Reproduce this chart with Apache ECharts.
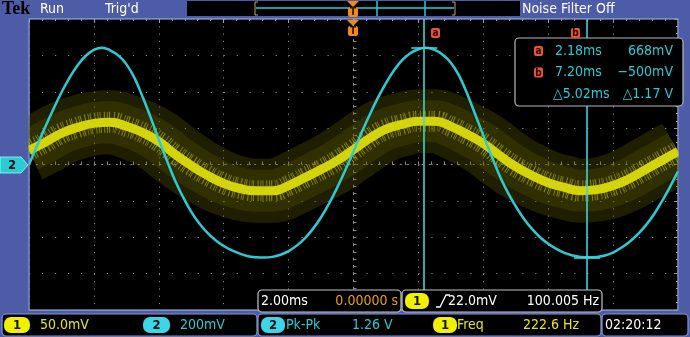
<!DOCTYPE html>
<html>
<head>
<meta charset="utf-8">
<script src="https://cdn.jsdelivr.net/npm/echarts@6/dist/echarts.min.js"></script>
<style>
html,body{margin:0;padding:0;background:#4d5ca6;}
#c{width:690px;height:337px;}
</style>
</head>
<body>
<div id="c"></div>
<script>
// ---- data (time in ms, values in screen divisions) ----
const ch1TimeMs = [-10,-9.5,-9,-8.5,-8,-7.5,-7,-6.5,-6,-5.5,-5,-4.5,-4,-3.5,-3,-2.5,-2,-1.5,-1,-0.5,0,0.5,1,1.5,2,2.5,3,3.5,4,4.5,5,5.5,6,6.5,7,7.5,8,8.5,9,9.5,10];
const ch1Div = [0.39,0.61,0.86,1.02,1.13,1.16,1.05,0.88,0.63,0.28,-0.03,-0.30,-0.52,-0.66,-0.72,-0.72,-0.58,-0.36,-0.14,0.11,0.41,0.72,0.97,1.10,1.19,1.19,1.05,0.83,0.58,0.25,-0.06,-0.30,-0.50,-0.63,-0.72,-0.69,-0.58,-0.39,-0.14,0.11,0.36];
const ch2TimeMs = [-10,-9.75,-9.5,-9.25,-9,-8.75,-8.5,-8.25,-8,-7.75,-7.5,-7.25,-7,-6.75,-6.5,-6.25,-6,-5.75,-5.5,-5.25,-5,-4.75,-4.5,-4.25,-4,-3.75,-3.5,-3.25,-3,-2.75,-2.5,-2.25,-2,-1.75,-1.5,-1.25,-1,-0.75,-0.5,-0.25,0,0.25,0.5,0.75,1,1.25,1.5,1.75,2,2.25,2.5,2.75,3,3.25,3.5,3.75,4,4.25,4.5,4.75,5,5.25,5.5,5.75,6,6.25,6.5,6.75,7,7.25,7.5,7.75,8,8.25,8.5,8.75,9,9.25,9.5,9.75,10];
const ch2Div = [0.00,0.52,1.03,1.52,1.98,2.39,2.73,2.99,3.15,3.21,
                3.14,3.00,2.76,2.38,1.86,1.29,0.69,0.11,-0.44,-0.90,
                -1.30,-1.62,-1.88,-2.08,-2.24,-2.36,-2.45,-2.52,-2.55,-2.56,
                -2.54,-2.48,-2.38,-2.23,-2.03,-1.77,-1.45,-1.07,-0.63,-0.15,
                0.36,0.88,1.37,1.83,2.24,2.59,2.87,3.06,3.17,3.21,
                3.15,3.02,2.80,2.45,1.95,1.38,0.80,0.24,-0.30,-0.76,
                -1.15,-1.49,-1.77,-2.00,-2.18,-2.32,-2.43,-2.50,-2.54,-2.55,
                -2.54,-2.50,-2.42,-2.29,-2.13,-1.93,-1.68,-1.38,-1.02,-0.62,
                -0.19];
const cursorTimes = [2.18, 7.20];
const cursorLevels = [3.22, -2.56];
const xRange = [-10, 10, 2];   // 2.00 ms/div, 10 divisions
const yRange = [-4, 4, 1];     // 8 divisions

// ---- readout texts ----
const cursorRows = [["a","2.18ms","668mV"],["b","7.20ms","\u2212500mV"],["","\u25B35.02ms","\u25B31.17 V"]];
const horiz = ["2.00ms","0.00000 s"];
const trig = ["22.0mV","100.005 Hz"];
const chScale = ["50.0mV","200mV"];
const meas = ["Pk-Pk","1.26 V","Freq","222.6 Hz"];
const clock = "02:20:12";

const pair = (ts, ys) => ts.map((t,i)=>[t, ys[i]]);

const FONT = "'Liberation Sans Narrow','DejaVu Sans Condensed','Liberation Sans',sans-serif";
const YEL = '#e6e614', CYA = '#2ccbd4', ORG = '#f08a1c', CUR = '#e8562a', FRAME = '#4d5ca6';

function txt(x,y,s,fill,size,align,weight,family){
  return {type:'text', z:120, style:{x:x,y:y,text:s,fill:fill,
    font:(weight||'normal')+' '+(size||14)+'px '+(family||FONT),
    align:align||'left', textAlign:align||'left', verticalAlign:'middle', textVerticalAlign:'middle'}};
}
function box(x,y,w,h,stroke){
  return {type:'rect', z:110, shape:{x:x,y:y,width:w,height:h,r:4},
    style:{fill:'#000',stroke:stroke||'#c4c4cc',lineWidth:1.2}};
}
function pill(x,y,w,h,color,label){
  return [{type:'rect', z:115, shape:{x:x,y:y,width:w,height:h,r:7}, style:{fill:color}},
          txt(x+w/2,y+h/2+0.5,label,'#111',13,'center','bold')];
}
function curIcon(x,y,label){
  return [{type:'rect', z:118, shape:{x:x,y:y,width:9,height:10,r:2}, style:{fill:CUR}},
          txt(x+4.5,y+5.5,label,'#2a0a00',10,'center','bold')];
}
function trigMarker(x,y){
  return [{type:'polygon', z:118, shape:{points:[[x-6,y],[x+6,y],[x,y+6]]}, style:{fill:ORG}},
          {type:'rect', z:118, shape:{x:x-5,y:y+6,width:10,height:10,r:2}, style:{fill:ORG}},
          txt(x,y+11.5,'T','#2a1200',10,'center','bold')];
}

const graphics = [];
// frame strips hiding wide strokes that spill past the graticule
graphics.push({type:'rect', z:100, shape:{x:0,y:17,width:28.4,height:296}, style:{fill:FRAME}});
graphics.push({type:'rect', z:100, shape:{x:678.6,y:17,width:12,height:296}, style:{fill:FRAME}});
// top bar
graphics.push(txt(2,9,'Tek','#000',18,'left','bold',"'Liberation Serif',serif"));
graphics.push(txt(40,9,'Run','#fff',14));
graphics.push(txt(105,9,"Trig'd",'#fff',14));
graphics.push({type:'rect', z:105, shape:{x:187,y:1,width:333,height:15}, style:{fill:'#000'}});
graphics.push({type:'line', z:106, shape:{x1:256,y1:8,x2:454,y2:8}, style:{stroke:CYA,lineWidth:1.5}});
graphics.push({type:'line', z:106, shape:{x1:377,y1:1,x2:377,y2:16}, style:{stroke:CYA,lineWidth:1.5}});
graphics.push({type:'line', z:106, shape:{x1:425,y1:1,x2:425,y2:16}, style:{stroke:CYA,lineWidth:1.5}});
graphics.push({type:'polyline', z:106, shape:{points:[[258,2],[255,2],[255,15],[258,15]]}, style:{stroke:'#c8a070',lineWidth:1,fill:null}});
graphics.push({type:'polyline', z:106, shape:{points:[[452,2],[455,2],[455,15],[452,15]]}, style:{stroke:'#c8a070',lineWidth:1,fill:null}});
graphics.push(...trigMarker(353,1));
graphics.push(txt(522,9,'Noise Filter Off','#fff',14));
// trigger marker on graticule, cursor tags
graphics.push(...trigMarker(353,20));
graphics.push(...curIcon(431,28,'a'));
graphics.push(...curIcon(571,28,'b'));
// ch2 ground marker
graphics.push({type:'polygon', z:118, shape:{points:[[0,157],[21,157],[28,165],[21,173],[0,173]]}, style:{fill:CYA,stroke:'#9ff',lineWidth:0.8}});
graphics.push(txt(12,165.5,'2','#111',13,'center','bold'));
// cursor readout box
graphics.push(box(515,38,168,68,'#b8b8c0'));
cursorRows.forEach((r,i)=>{
  const y = 51 + i*21.5;
  if (r[0]) graphics.push(...curIcon(534,y-5,r[0]));
  graphics.push(txt(555 - (r[0]?0:2),y,r[1],CYA,14));
  graphics.push(txt(673,y,r[2],CYA,14,'right'));
});
// bottom row 1
graphics.push(box(258,290,143,22));
graphics.push(txt(261,301,horiz[0],'#fff',14));
graphics.push(txt(398,301,horiz[1],'#f0a000',14,'right'));
graphics.push(box(402,290,200,22));
graphics.push(...pill(405,293,24,16,'#f0f000','1'));
graphics.push({type:'polyline', z:118, shape:{points:[[436,307],[440,307],[446,295],[450,295]]}, style:{stroke:'#fff',lineWidth:1.3,fill:null}});
graphics.push(txt(448,301,trig[0],'#fff',14));
graphics.push(txt(599,301,trig[1],'#fff',14,'right'));
// bottom row 2
graphics.push(box(2,314,255,22,'#8a94c8'));
graphics.push(...pill(4,317,26,16,'#f0f000','1'));
graphics.push(txt(40,325,chScale[0],YEL,14));
graphics.push(...pill(143,317,27,16,'#3cd6e6','2'));
graphics.push(txt(180,325,chScale[1],CYA,14));
graphics.push(box(258,314,343,22,'#8a94c8'));
graphics.push(...pill(261,317,24,16,'#3cd6e6','2'));
graphics.push(txt(286,325,meas[0],CYA,14));
graphics.push(txt(352,325,meas[1],CYA,14));
graphics.push(...pill(433,317,24,16,'#f0f000','1'));
graphics.push(txt(457,325,meas[2],YEL,14));
graphics.push(txt(523,325,meas[3],YEL,14));
graphics.push(box(602,314,86,22,'#8a94c8'));
graphics.push(txt(605,325,clock,'#fff',14));

const gridDot = '#8a8a8a';
const tickAxis = (pos, isX) => ({
  type:'value', gridIndex:0, position:pos, min:(isX?xRange:yRange)[0], max:(isX?xRange:yRange)[1], interval:(isX?xRange:yRange)[2],
  axisLine:{show:false, onZero:false}, axisLabel:{show:false}, splitLine:{show:false},
  axisTick:{show:true, inside:true, length:4, lineStyle:{color:'#9a9aa8'}},
  minorTick:{show:true, splitNumber:5, length:2, lineStyle:{color:'#9a9aa8'}}
});

const lidSegments = cursorTimes.map((t,i)=>[{coord:[t-0.4, cursorLevels[i]]},{coord:[t+0.4, cursorLevels[i]]}]);

const option = {
  animation:false,
  backgroundColor:FRAME,
  grid:{left:29, right:12, top:19, bottom:27, show:true, backgroundColor:'#000', borderColor:'#aac0ee', borderWidth:1.2},
  xAxis:[
    {type:'value', min:xRange[0], max:xRange[1], interval:xRange[2],
     axisLine:{show:true, onZero:true, lineStyle:{color:'#9a9a9a', type:[1,6.28], width:1}},
     axisTick:{show:true, inside:true, length:3, lineStyle:{color:'#8a8a8a'}},
     minorTick:{show:true, splitNumber:5, length:3, lineStyle:{color:'#8a8a8a'}},
     axisLabel:{show:false},
     splitLine:{show:true, lineStyle:{color:gridDot, type:[1.2,6.08], width:1}}},
    tickAxis('top', true)
  ],
  yAxis:[
    {type:'value', min:yRange[0], max:yRange[1], interval:yRange[2],
     axisLine:{show:true, onZero:true, lineStyle:{color:'#9a9a9a', type:[1,6.28], width:1}},
     axisTick:{show:true, inside:true, length:3, lineStyle:{color:'#8a8a8a'}},
     minorTick:{show:true, splitNumber:5, length:3, lineStyle:{color:'#8a8a8a'}},
     axisLabel:{show:false},
     splitLine:{show:true, lineStyle:{color:gridDot, type:[1.2,11.78], width:1}}},
    tickAxis('right', false)
  ],
  series:[
    {name:'ch1 persistence outer', type:'line', data:pair(ch1TimeMs, ch1Div), smooth:0.5, symbol:'none', silent:true, z:1,
     lineStyle:{color:'rgba(95,92,0,0.32)', width:64, cap:'butt'}},
    {name:'ch1 persistence inner', type:'line', data:pair(ch1TimeMs, ch1Div), smooth:0.5, symbol:'none', silent:true, z:1,
     lineStyle:{color:'rgba(95,92,0,0.28)', width:42, cap:'butt'}},
    {name:'ch1 noise', type:'line', data:pair(ch1TimeMs, ch1Div), smooth:0.5, symbol:'none', silent:true, z:2,
     lineStyle:{color:'rgba(215,215,0,0.5)', width:21, type:[1,2,1,1,1,3], cap:'butt'}},
    {name:'ch1', type:'line', data:pair(ch1TimeMs, ch1Div), smooth:0.5, symbol:'none', silent:true, z:3,
     lineStyle:{color:'#d4d40c', width:9}},
    {name:'ch2', type:'line', data:pair(ch2TimeMs, ch2Div), smooth:0.4, symbol:'none', silent:true, z:4,
     lineStyle:{color:CYA, width:2.5},
     markLine:{silent:true, symbol:'none', label:{show:false},
       lineStyle:{color:'#3fd2da', width:1.6, type:'solid'},
       data:cursorTimes.map(t=>({xAxis:t})).concat(lidSegments)}}
  ],
  graphic:{elements:graphics}
};
const chart = echarts.init(document.getElementById('c'), null, {renderer:'canvas'});
chart.setOption(option);
</script>
</body>
</html>
